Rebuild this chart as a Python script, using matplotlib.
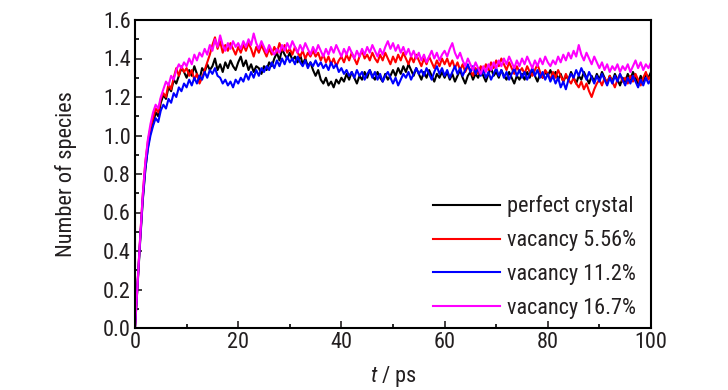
import numpy as np
import matplotlib
matplotlib.use("Agg")
import matplotlib.pyplot as plt

plt.rcParams['font.family'] = ['Roboto Condensed', 'DejaVu Sans']
plt.rcParams['mathtext.fontset'] = 'custom'
plt.rcParams['mathtext.it'] = 'Roboto Condensed:italic'
plt.rcParams['mathtext.rm'] = 'Roboto Condensed'

time_ps = np.arange(0, 100.01, 0.5)

perfect_crystal = [
    0, 0.22, 0.45, 0.66, 0.82, 0.94, 1.02, 1.06, 1.12, 1.10,
    1.17, 1.21, 1.19, 1.25, 1.23, 1.29, 1.27, 1.31, 1.35, 1.33,
    1.30, 1.34, 1.31, 1.36, 1.32, 1.29, 1.35, 1.33, 1.37, 1.34,
    1.36, 1.40, 1.34, 1.37, 1.33, 1.38, 1.35, 1.39, 1.36, 1.34,
    1.38, 1.41, 1.36, 1.39, 1.34, 1.37, 1.33, 1.36, 1.35, 1.32,
    1.36, 1.34, 1.38, 1.36, 1.40, 1.43, 1.39, 1.45, 1.42, 1.40,
    1.43, 1.39, 1.41, 1.38, 1.42, 1.37, 1.40, 1.36, 1.38, 1.34,
    1.31, 1.34, 1.29, 1.27, 1.30, 1.26, 1.28, 1.25, 1.29, 1.27,
    1.30, 1.28, 1.32, 1.29, 1.33, 1.30, 1.27, 1.31, 1.29, 1.33,
    1.30, 1.34, 1.31, 1.29, 1.33, 1.30, 1.28, 1.32, 1.29, 1.31,
    1.34, 1.31, 1.35, 1.32, 1.36, 1.33, 1.37, 1.34, 1.31, 1.35,
    1.32, 1.29, 1.33, 1.30, 1.34, 1.31, 1.28, 1.32, 1.30, 1.33,
    1.30, 1.33, 1.29, 1.32, 1.28, 1.31, 1.34, 1.30, 1.27, 1.31,
    1.33, 1.29, 1.32, 1.30, 1.34, 1.31, 1.28, 1.32, 1.35, 1.31,
    1.33, 1.30, 1.34, 1.31, 1.29, 1.33, 1.30, 1.27, 1.31, 1.29,
    1.32, 1.29, 1.33, 1.30, 1.34, 1.31, 1.28, 1.32, 1.30, 1.33,
    1.31, 1.34, 1.30, 1.33, 1.29, 1.32, 1.28, 1.31, 1.29, 1.33,
    1.30, 1.27, 1.31, 1.29, 1.33, 1.30, 1.27, 1.31, 1.28, 1.32,
    1.29, 1.33, 1.30, 1.27, 1.31, 1.28, 1.32, 1.29, 1.26, 1.30,
    1.28, 1.32, 1.29, 1.33, 1.30, 1.27, 1.31, 1.28, 1.32, 1.30,
    1.33,
]

vacancy_556 = [
    0, 0.24, 0.47, 0.69, 0.86, 0.97, 1.04, 1.09, 1.14, 1.12,
    1.19, 1.22, 1.20, 1.27, 1.24, 1.30, 1.35, 1.31, 1.36, 1.33,
    1.35, 1.31, 1.34, 1.29, 1.32, 1.27, 1.30, 1.34, 1.38, 1.42,
    1.47, 1.51, 1.45, 1.49, 1.43, 1.47, 1.44, 1.48, 1.45, 1.42,
    1.46, 1.43, 1.47, 1.44, 1.48, 1.45, 1.41, 1.46, 1.43, 1.47,
    1.44, 1.41, 1.45, 1.42, 1.46, 1.43, 1.48, 1.44, 1.47, 1.43,
    1.45, 1.42, 1.46, 1.43, 1.41, 1.44, 1.40, 1.43, 1.41, 1.44,
    1.41, 1.43, 1.39, 1.42, 1.38, 1.41, 1.37, 1.40, 1.36, 1.39,
    1.41, 1.38, 1.42, 1.39, 1.43, 1.40, 1.37, 1.41, 1.44, 1.40,
    1.42, 1.39, 1.43, 1.40, 1.38, 1.42, 1.39, 1.43, 1.40, 1.37,
    1.41, 1.38, 1.42, 1.39, 1.43, 1.40, 1.37, 1.41, 1.38, 1.42,
    1.39, 1.36, 1.40, 1.37, 1.41, 1.38, 1.35, 1.39, 1.36, 1.40,
    1.37, 1.40, 1.36, 1.39, 1.35, 1.38, 1.34, 1.37, 1.33, 1.36,
    1.34, 1.31, 1.35, 1.32, 1.36, 1.33, 1.37, 1.34, 1.38, 1.35,
    1.39, 1.36, 1.40, 1.37, 1.34, 1.38, 1.35, 1.32, 1.36, 1.33,
    1.35, 1.32, 1.36, 1.33, 1.31, 1.34, 1.37, 1.33, 1.30, 1.34,
    1.32, 1.29, 1.33, 1.30, 1.34, 1.31, 1.28, 1.32, 1.29, 1.27,
    1.30, 1.27, 1.25, 1.28, 1.24, 1.27, 1.23, 1.20, 1.24, 1.27,
    1.29, 1.26, 1.30, 1.27, 1.31, 1.28, 1.25, 1.29, 1.32, 1.28,
    1.30, 1.27, 1.31, 1.28, 1.32, 1.29, 1.26, 1.30, 1.33, 1.29,
    1.31,
]

vacancy_112 = [
    0, 0.23, 0.46, 0.67, 0.83, 0.93, 1.00, 1.05, 1.09, 1.07,
    1.13, 1.16, 1.14, 1.19, 1.17, 1.22, 1.20, 1.25, 1.23, 1.27,
    1.25, 1.29, 1.26, 1.30, 1.27, 1.31, 1.29, 1.33, 1.30, 1.34,
    1.32, 1.35, 1.31, 1.30, 1.27, 1.29, 1.26, 1.28, 1.25, 1.29,
    1.27, 1.30, 1.28, 1.32, 1.29, 1.33, 1.30, 1.34, 1.31, 1.35,
    1.33, 1.36, 1.34, 1.38, 1.35, 1.39, 1.36, 1.40, 1.37, 1.41,
    1.38, 1.40, 1.37, 1.41, 1.38, 1.36, 1.39, 1.35, 1.38, 1.36,
    1.39, 1.36, 1.38, 1.35, 1.37, 1.34, 1.38, 1.35, 1.37, 1.33,
    1.35, 1.32, 1.34, 1.31, 1.33, 1.30, 1.34, 1.31, 1.33, 1.29,
    1.32, 1.34, 1.30, 1.33, 1.29, 1.32, 1.28, 1.31, 1.33, 1.30,
    1.27, 1.30, 1.26, 1.29, 1.32, 1.30, 1.33, 1.29, 1.32, 1.35,
    1.32, 1.34, 1.31, 1.35, 1.32, 1.29, 1.33, 1.36, 1.32, 1.35,
    1.31, 1.34, 1.30, 1.33, 1.36, 1.32, 1.35, 1.31, 1.34, 1.37,
    1.33, 1.36, 1.32, 1.35, 1.31, 1.34, 1.30, 1.33, 1.29, 1.32,
    1.35, 1.31, 1.34, 1.30, 1.33, 1.29, 1.32, 1.35, 1.31, 1.34,
    1.30, 1.33, 1.29, 1.32, 1.35, 1.31, 1.34, 1.30, 1.33, 1.29,
    1.32, 1.28, 1.31, 1.27, 1.30, 1.25, 1.28, 1.24, 1.29, 1.32,
    1.30, 1.34, 1.31, 1.35, 1.32, 1.29, 1.33, 1.30, 1.27, 1.31,
    1.28, 1.32, 1.29, 1.26, 1.30, 1.27, 1.31, 1.28, 1.32, 1.29,
    1.26, 1.30, 1.27, 1.31, 1.28, 1.25, 1.29, 1.26, 1.30, 1.27,
    1.29,
]

vacancy_167 = [
    0, 0.23, 0.47, 0.69, 0.86, 0.98, 1.06, 1.12, 1.16, 1.14,
    1.20, 1.24, 1.28, 1.26, 1.31, 1.29, 1.34, 1.37, 1.35, 1.38,
    1.36, 1.40, 1.37, 1.42, 1.39, 1.43, 1.41, 1.45, 1.42, 1.47,
    1.44, 1.50, 1.46, 1.52, 1.47, 1.44, 1.48, 1.45, 1.49, 1.46,
    1.48, 1.45, 1.49, 1.46, 1.50, 1.47, 1.53, 1.48, 1.45, 1.49,
    1.46, 1.43, 1.47, 1.44, 1.42, 1.45, 1.43, 1.47, 1.44, 1.48,
    1.45, 1.49, 1.46, 1.43, 1.47, 1.44, 1.48, 1.45, 1.42, 1.46,
    1.43, 1.47, 1.44, 1.41, 1.45, 1.42, 1.46, 1.43, 1.47, 1.44,
    1.41, 1.45, 1.42, 1.46, 1.43, 1.40, 1.44, 1.41, 1.45, 1.42,
    1.46, 1.43, 1.47, 1.44, 1.41, 1.45, 1.42, 1.46, 1.49, 1.45,
    1.48, 1.44, 1.47, 1.43, 1.46, 1.42, 1.45, 1.41, 1.44, 1.40,
    1.43, 1.39, 1.42, 1.38, 1.41, 1.44, 1.40, 1.43, 1.39, 1.42,
    1.44, 1.41, 1.45, 1.48, 1.43, 1.40, 1.43, 1.39, 1.36, 1.40,
    1.37, 1.34, 1.38, 1.35, 1.32, 1.36, 1.33, 1.37, 1.34, 1.38,
    1.35, 1.39, 1.36, 1.40, 1.37, 1.41, 1.38, 1.35, 1.39, 1.36,
    1.40, 1.37, 1.41, 1.38, 1.35, 1.39, 1.36, 1.40, 1.37, 1.41,
    1.38, 1.36, 1.39, 1.37, 1.41, 1.38, 1.42, 1.39, 1.43, 1.40,
    1.44, 1.41, 1.47, 1.42, 1.39, 1.43, 1.40, 1.37, 1.41, 1.38,
    1.35, 1.38, 1.34, 1.37, 1.33, 1.36, 1.34, 1.37, 1.33, 1.36,
    1.34, 1.37, 1.33, 1.36, 1.39, 1.35, 1.38, 1.34, 1.37, 1.35,
    1.38,
]

labels = ["perfect crystal", "vacancy 5.56%", "vacancy 11.2%", "vacancy 16.7%"]
colors = ["#000000", "#ff0000", "#0000ff", "#ff00ff"]
series = [perfect_crystal, vacancy_556, vacancy_112, vacancy_167]

fig = plt.figure(figsize=(7.28, 3.90), dpi=100)
ax = fig.add_axes([135/728, 1-328/390, (651-135)/728, (328-20)/390])

for y, c, lab in zip(series, colors, labels):
    ax.plot(time_ps, y, color=c, lw=1.5, label=lab)

ax.set_xlim(0, 100)
ax.set_ylim(0, 1.6)
ax.set_xticks(np.arange(0, 101, 20))
ax.set_xticks(np.arange(0, 101, 10), minor=True)
ax.set_yticks(np.arange(0, 1.61, 0.2))
ax.set_yticks(np.arange(0, 1.61, 0.1), minor=True)
ax.set_yticklabels([f"{v:.1f}" for v in np.arange(0, 1.61, 0.2)])
ax.tick_params(which='major', direction='in', length=5, width=1.2, labelsize=16, colors='#231f20', pad=3)
ax.tick_params(which='minor', direction='in', length=3, width=1.2)
for s in ax.spines.values():
    s.set_linewidth(1.5)

ax.set_xlabel(r"$\it{t}$ / ps", fontsize=16, color='#231f20', labelpad=8)
ax.set_ylabel("Number of species", fontsize=16, color='#231f20', labelpad=19)

leg = ax.legend(loc='lower right', frameon=False, fontsize=16, handlelength=3.0,
                handletextpad=0.3, labelspacing=0.58, borderaxespad=0.0,
                bbox_to_anchor=(0.988, 0.0))
for t in leg.get_texts():
    t.set_color('#231f20')

fig.savefig("out.png", dpi=100)
